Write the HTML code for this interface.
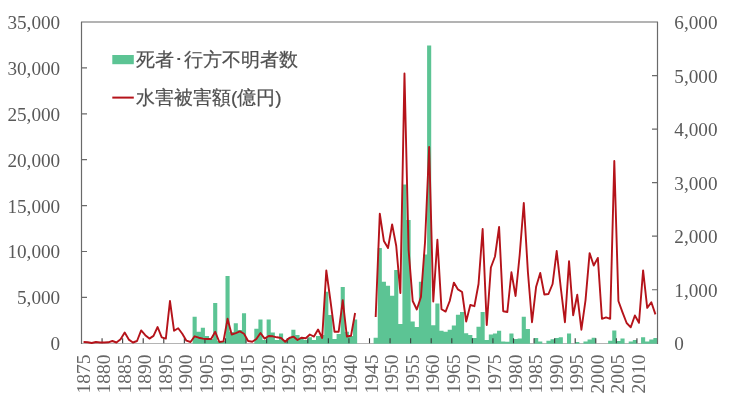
<!DOCTYPE html>
<html><head><meta charset="utf-8"><style>
html,body{margin:0;padding:0;background:#fff;}
body{width:731px;height:409px;overflow:hidden;}
#wrap{position:absolute;left:0;top:0;width:731px;height:409px;font-family:"Liberation Serif",serif;color:#595959;filter:blur(0.4px);}
svg{position:absolute;left:0;top:0;}
.yl{position:absolute;left:0;width:60.2px;text-align:right;font-size:19.2px;line-height:22px;white-space:nowrap;}
.yr{position:absolute;left:674.3px;font-size:19.2px;line-height:22px;white-space:nowrap;}
.xl{position:absolute;top:374px;width:40px;height:22px;line-height:22px;font-size:19.5px;text-align:center;transform:rotate(-90deg);transform-origin:50% 50%;margin-top:-11px;color:#666;}
.lg{position:absolute;left:136px;font-family:"Liberation Sans",sans-serif;font-size:19px;line-height:22px;white-space:nowrap;color:#505050;-webkit-text-stroke:0.22px #505050;}
</style></head><body><div id="wrap">
<svg width="731" height="409" viewBox="0 0 731 409">
<path d="M81.5 343.5 H657.5" stroke="#b4b4b4" stroke-width="1.2" fill="none"/>
<path fill="#5cc494" d="M192.59 316.70H196.70V343.80H192.59ZM196.70 331.80H200.81V343.80H196.70ZM200.81 327.70H204.93V343.80H200.81ZM204.93 335.90H209.04V343.80H204.93ZM209.04 339.00H213.16V343.80H209.04ZM213.16 303.00H217.27V343.80H213.16ZM217.27 341.00H221.39V343.80H217.27ZM221.39 341.00H225.50V343.80H221.39ZM225.50 276.10H229.61V343.80H225.50ZM229.61 332.00H233.73V343.80H229.61ZM233.73 323.20H237.84V343.80H233.73ZM237.84 330.00H241.96V343.80H237.84ZM241.96 313.30H246.07V343.80H241.96ZM254.30 328.80H258.41V343.80H254.30ZM258.41 319.50H262.53V343.80H258.41ZM262.53 340.00H266.64V343.80H262.53ZM266.64 319.50H270.76V343.80H266.64ZM270.76 332.50H274.87V343.80H270.76ZM274.87 340.00H278.99V343.80H274.87ZM278.99 333.60H283.10V343.80H278.99ZM283.10 341.00H287.21V343.80H283.10ZM287.21 338.00H291.33V343.80H287.21ZM291.33 329.70H295.44V343.80H291.33ZM295.44 335.00H299.56V343.80H295.44ZM299.56 338.00H303.67V343.80H299.56ZM303.67 340.00H307.79V343.80H303.67ZM307.79 337.30H311.90V343.80H307.79ZM311.90 340.00H316.01V343.80H311.90ZM316.01 335.90H320.13V343.80H316.01ZM320.13 335.00H324.24V343.80H320.13ZM324.24 291.80H328.36V343.80H324.24ZM328.36 315.00H332.47V343.80H328.36ZM332.47 339.00H336.59V343.80H332.47ZM336.59 333.90H340.70V343.80H336.59ZM340.70 287.00H344.81V343.80H340.70ZM344.81 331.80H348.93V343.80H344.81ZM348.93 336.00H353.04V343.80H348.93ZM353.04 319.50H357.16V343.80H353.04ZM373.61 337.70H377.73V343.80H373.61ZM377.73 248.00H381.84V343.80H377.73ZM381.84 281.70H385.96V343.80H381.84ZM385.96 285.80H390.07V343.80H385.96ZM390.07 295.70H394.19V343.80H390.07ZM394.19 270.00H398.30V343.80H394.19ZM398.30 324.00H402.41V343.80H398.30ZM402.41 184.40H406.53V343.80H402.41ZM406.53 220.00H410.64V343.80H406.53ZM410.64 321.50H414.76V343.80H410.64ZM414.76 327.00H418.87V343.80H414.76ZM418.87 281.70H422.99V343.80H418.87ZM422.99 254.50H427.10V343.80H422.99ZM427.10 45.40H431.21V343.80H427.10ZM431.21 325.30H435.33V343.80H431.21ZM435.33 303.50H439.44V343.80H435.33ZM439.44 330.80H443.56V343.80H439.44ZM443.56 331.80H447.67V343.80H443.56ZM447.67 329.70H451.79V343.80H447.67ZM451.79 325.50H455.90V343.80H451.79ZM455.90 314.70H460.01V343.80H455.90ZM460.01 311.90H464.13V343.80H460.01ZM464.13 333.20H468.24V343.80H464.13ZM468.24 335.00H472.36V343.80H468.24ZM472.36 338.00H476.47V343.80H472.36ZM476.47 326.70H480.59V343.80H476.47ZM480.59 311.90H484.70V343.80H480.59ZM484.70 340.00H488.81V343.80H484.70ZM488.81 334.50H492.93V343.80H488.81ZM492.93 333.60H497.04V343.80H492.93ZM497.04 330.80H501.16V343.80H497.04ZM501.16 341.40H505.27V343.80H501.16ZM505.27 341.80H509.39V343.80H505.27ZM509.39 333.60H513.50V343.80H509.39ZM513.50 339.00H517.61V343.80H513.50ZM517.61 338.60H521.73V343.80H517.61ZM521.73 316.70H525.84V343.80H521.73ZM525.84 329.00H529.96V343.80H525.84ZM534.07 338.00H538.19V343.80H534.07ZM538.19 341.40H542.30V343.80H538.19ZM546.41 340.70H550.53V343.80H546.41ZM550.53 339.30H554.64V343.80H550.53ZM554.64 338.00H558.76V343.80H554.64ZM558.76 337.30H562.87V343.80H558.76ZM566.99 333.60H571.10V343.80H566.99ZM575.21 342.00H579.33V343.80H575.21ZM583.44 341.40H587.56V343.80H583.44ZM587.56 339.60H591.67V343.80H587.56ZM591.67 337.70H595.79V343.80H591.67ZM608.13 340.70H612.24V343.80H608.13ZM612.24 330.60H616.36V343.80H612.24ZM616.36 341.00H620.47V343.80H616.36ZM620.47 338.60H624.59V343.80H620.47ZM628.70 341.40H632.81V343.80H628.70ZM632.81 340.00H636.93V343.80H632.81ZM641.04 337.30H645.16V343.80H641.04ZM645.16 341.40H649.27V343.80H645.16ZM649.27 339.60H653.39V343.80H649.27ZM653.39 338.00H657.50V343.80H653.39Z"/>
<path d="M81.0 22 H658.0" fill="none" stroke="#9a9a9a" stroke-width="1.3"/><path d="M81.5 22 V344.1 M657.5 22 V344.1" fill="none" stroke="#6a6a6a" stroke-width="1.2"/><path d="M81.5 297.40 h5.5 M81.5 251.50 h5.5 M81.5 205.60 h5.5 M81.5 159.70 h5.5 M81.5 113.80 h5.5 M81.5 67.90 h5.5 M657.5 289.75 h-5.5 M657.5 236.20 h-5.5 M657.5 182.65 h-5.5 M657.5 129.10 h-5.5 M657.5 75.55 h-5.5" stroke="#6a6a6a" stroke-width="1.2" fill="none"/><path d="M102.07 343.3 v-5 M122.64 343.3 v-5 M143.21 343.3 v-5 M163.79 343.3 v-5 M184.36 343.3 v-5 M204.93 343.3 v-5 M225.50 343.3 v-5 M246.07 343.3 v-5 M266.64 343.3 v-5 M287.21 343.3 v-5 M307.79 343.3 v-5 M328.36 343.3 v-5 M348.93 343.3 v-5 M369.50 343.3 v-5 M390.07 343.3 v-5 M410.64 343.3 v-5 M431.21 343.3 v-5 M451.79 343.3 v-5 M472.36 343.3 v-5 M492.93 343.3 v-5 M513.50 343.3 v-5 M534.07 343.3 v-5 M554.64 343.3 v-5 M575.21 343.3 v-5 M595.79 343.3 v-5 M616.36 343.3 v-5 M636.93 343.3 v-5" stroke="#3a3a3a" stroke-width="1.1" fill="none"/>
<polyline points="83.56,342.00 87.67,342.30 91.79,343.00 95.90,342.00 100.01,342.50 104.13,342.50 108.24,342.30 112.36,341.00 116.47,342.50 120.59,339.30 124.70,332.50 128.81,339.60 132.93,342.50 137.04,341.00 141.16,330.40 145.27,335.20 149.39,338.60 153.50,335.90 157.61,327.00 161.73,337.30 165.84,338.60 169.96,301.00 174.07,330.80 178.19,328.30 182.30,333.80 186.41,340.70 190.53,342.00 194.64,336.30 198.76,337.70 202.87,338.60 206.99,339.00 211.10,339.00 215.21,331.80 219.33,342.00 223.44,341.40 227.56,318.80 231.67,334.50 235.79,333.20 239.90,331.40 244.01,333.80 248.13,341.00 252.24,341.80 256.36,339.00 260.47,333.00 264.59,338.60 268.70,336.00 272.81,336.30 276.93,337.30 281.04,338.00 285.16,341.80 289.27,338.00 293.39,336.60 297.50,340.00 301.61,337.70 305.73,338.20 309.84,334.50 313.96,336.60 318.07,329.50 322.19,338.00 326.30,270.50 330.41,300.50 334.53,331.80 338.64,331.80 342.76,300.30 346.87,336.50 350.99,335.80 355.10,313.00" fill="none" stroke="#b5131a" stroke-width="1.9" stroke-linejoin="round" stroke-linecap="butt"/><polyline points="375.67,317.00 379.79,213.70 383.90,241.10 388.01,248.00 392.13,224.40 396.24,246.00 400.36,293.00 404.47,73.50 408.59,250.00 412.70,301.00 416.81,309.50 420.93,297.00 425.04,242.00 429.16,147.00 433.27,301.50 437.39,239.70 441.50,309.20 445.61,311.60 449.73,301.00 453.84,282.60 457.96,289.40 462.07,292.00 466.19,321.50 470.30,305.00 474.41,306.20 478.53,284.00 482.64,229.00 486.76,325.00 490.87,267.50 494.99,256.50 499.10,227.00 503.21,311.20 507.33,312.00 511.44,272.30 515.56,296.00 519.67,255.00 523.79,203.00 527.90,272.00 532.01,322.20 536.13,286.70 540.24,273.00 544.36,294.50 548.47,294.00 552.59,284.00 556.70,251.00 560.81,288.00 564.93,322.20 569.04,261.30 573.16,315.30 577.27,294.80 581.39,329.70 585.50,300.30 589.61,253.10 593.73,265.50 597.84,257.90 601.96,318.80 606.07,317.40 610.19,318.80 614.30,161.00 618.41,301.00 622.53,312.30 626.64,323.00 630.76,327.30 634.87,315.50 638.99,322.80 643.10,270.40 647.21,307.90 651.33,302.30 655.44,314.40" fill="none" stroke="#b5131a" stroke-width="1.9" stroke-linejoin="round" stroke-linecap="butt"/>
<rect x="112.3" y="55" width="21.5" height="9.2" fill="#5cc494"/>
<rect x="112.3" y="96.6" width="21.5" height="2" fill="#b5131a"/>
</svg>
<div class="yl" style="top:333.2px">0</div><div class="yl" style="top:287.3px">5,000</div><div class="yl" style="top:241.4px">10,000</div><div class="yl" style="top:195.5px">15,000</div><div class="yl" style="top:149.6px">20,000</div><div class="yl" style="top:103.7px">25,000</div><div class="yl" style="top:57.8px">30,000</div><div class="yl" style="top:11.9px">35,000</div><div class="yr" style="top:333.2px">0</div><div class="yr" style="top:279.6px">1,000</div><div class="yr" style="top:226.1px">2,000</div><div class="yr" style="top:172.6px">3,000</div><div class="yr" style="top:119.0px">4,000</div><div class="yr" style="top:65.5px">5,000</div><div class="yr" style="top:11.9px">6,000</div><div class="xl" style="left:63.6px">1875</div><div class="xl" style="left:84.1px">1880</div><div class="xl" style="left:104.7px">1885</div><div class="xl" style="left:125.3px">1890</div><div class="xl" style="left:145.8px">1895</div><div class="xl" style="left:166.4px">1900</div><div class="xl" style="left:187.0px">1905</div><div class="xl" style="left:207.6px">1910</div><div class="xl" style="left:228.1px">1915</div><div class="xl" style="left:248.7px">1920</div><div class="xl" style="left:269.3px">1925</div><div class="xl" style="left:289.8px">1930</div><div class="xl" style="left:310.4px">1935</div><div class="xl" style="left:331.0px">1940</div><div class="xl" style="left:351.6px">1945</div><div class="xl" style="left:372.1px">1950</div><div class="xl" style="left:392.7px">1955</div><div class="xl" style="left:413.3px">1960</div><div class="xl" style="left:433.8px">1965</div><div class="xl" style="left:454.4px">1970</div><div class="xl" style="left:475.0px">1975</div><div class="xl" style="left:495.6px">1980</div><div class="xl" style="left:516.1px">1985</div><div class="xl" style="left:536.7px">1990</div><div class="xl" style="left:557.3px">1995</div><div class="xl" style="left:577.8px">2000</div><div class="xl" style="left:598.4px">2005</div><div class="xl" style="left:619.0px">2010</div>
<div class="lg" style="top:49px">死者･行方不明者数</div>
<div class="lg" style="top:87px">水害被害額(億円)</div>
</div></body></html>
